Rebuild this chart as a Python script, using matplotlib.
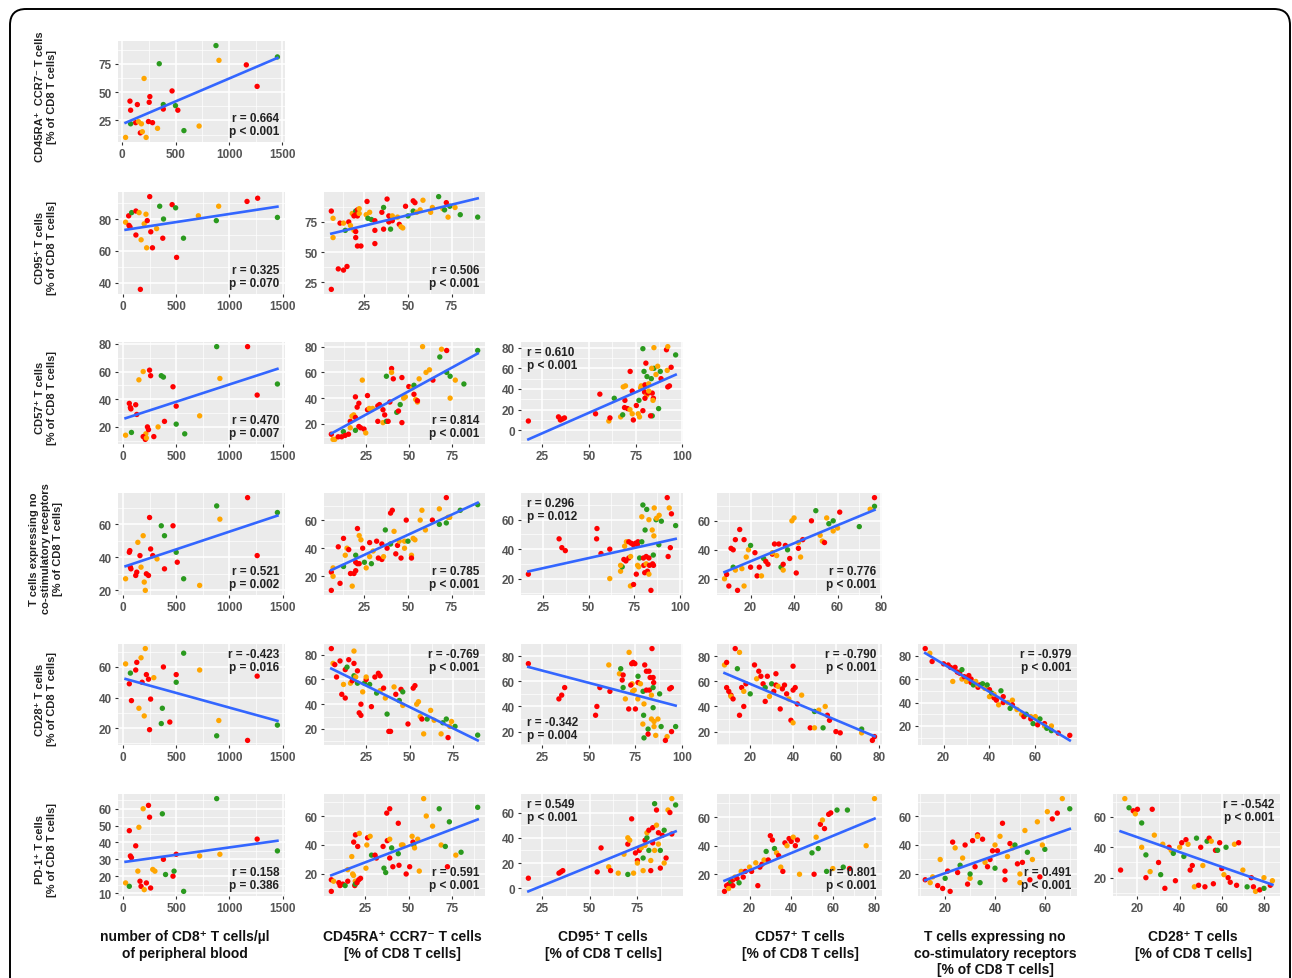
import numpy as np
import matplotlib
matplotlib.use("Agg")
import matplotlib.pyplot as plt
from matplotlib.patches import FancyBboxPatch
from matplotlib.ticker import MultipleLocator, AutoMinorLocator

plt.rcParams["font.family"] = ["Liberation Sans", "DejaVu Sans"]
plt.rcParams["font.weight"] = "bold"

COLORS = {"r": "#FF0000", "o": "#FFA500", "g": "#2A9A1E"}
LINE_BLUE = "#3366FF"

# ---- labels ----------------------------------------------------------------
row_labels = [
    "CD45RA\u207a  CCR7\u207b T cells\n[% of CD8 T cells]",
    "CD95\u207a T cells\n[% of CD8 T cells]",
    "CD57\u207a T cells\n[% of CD8 T cells]",
    "T cells expressing no\nco-stimulatory receptors\n[% of CD8 T cells]",
    "CD28\u207a T cells\n[% of CD8 T cells]",
    "PD-1\u207a T cells\n[% of CD8 T cells]",
]
col_labels = [
    "number of CD8\u207a T cells/\u00b5l\nof peripheral blood",
    "CD45RA\u207a CCR7\u207b T cells\n[% of CD8 T cells]",
    "CD95\u207a T cells\n[% of CD8 T cells]",
    "CD57\u207a T cells\n[% of CD8 T cells]",
    "T cells expressing no\nco-stimulatory receptors\n[% of CD8 T cells]",
    "CD28\u207a T cells\n[% of CD8 T cells]",
]

# ---- points per panel: (x, y, group) --------------------------------------
r1c1 = [(878, 91, "g"), (906, 78, "o"), (1453, 81, "g"), (1162, 74, "r"), (1263, 55, "r"),
        (347, 75, "g"), (205, 62, "o"), (467, 51, "r"), (259, 46, "r"), (73, 42, "r"),
        (142, 39, "r"), (253, 41, "r"), (79, 34, "r"), (385, 39, "g"), (385, 35, "r"),
        (499, 38, "g"), (521, 34, "r"), (246, 24, "r"), (284, 23, "r"), (126, 23, "r"),
        (152, 24, "o"), (79, 22, "g"), (180, 22, "o"), (170, 14, "r"), (189, 15, "o"),
        (331, 18, "o"), (32, 10, "o"), (224, 10, "o"), (578, 16, "g"), (720, 20, "o")]

r2c1 = [(250, 94, "r"), (1166, 91, "r"), (1266, 93, "r"), (899, 88, "o"), (461, 89, "r"),
        (494, 87, "g"), (344, 88, "g"), (380, 80, "g"), (708, 82, "o"), (1452, 81, "g"),
        (877, 79, "g"), (23, 78, "o"), (55, 76, "r"), (52, 82, "r"), (65, 75, "r"),
        (80, 84, "g"), (120, 85, "r"), (150, 84, "o"), (198, 77, "o"), (227, 79, "r"),
        (215, 83, "o"), (260, 72, "r"), (315, 74, "o"), (120, 70, "r"), (169, 67, "o"),
        (373, 68, "r"), (568, 68, "g"), (221, 62, "o"), (276, 62, "r"), (503, 56, "r"),
        (162, 36, "r")]

r2c2 = [(6, 84, "r"), (7, 78, "o"), (7, 62, "o"), (6, 19, "r"), (10, 36, "r"), (13, 35, "r"),
        (15, 38, "r"), (11, 74, "r"), (13, 74, "o"), (16, 75, "r"), (14, 68, "g"), (17, 72, "o"),
        (18, 82, "o"), (19, 80, "r"), (20, 84, "g"), (21, 85, "r"), (22, 86, "o"), (20, 81, "r"),
        (21, 80, "r"), (19, 68, "o"), (20, 67, "r"), (20, 62, "r"), (21, 55, "r"), (23, 55, "r"),
        (22, 82, "o"), (26.5, 92, "r"), (26, 81, "o"), (27, 78, "g"), (28, 83, "o"), (29, 77, "g"),
        (31, 68, "r"), (31, 57, "r"), (31, 76, "r"), (36, 69, "r"), (35, 83, "r"), (36, 87, "g"),
        (38, 94, "r"), (39, 80, "r"), (40, 78, "r"), (39, 75, "r"), (40, 69, "g"), (41, 80, "o"),
        (41, 76, "r"), (44, 79, "o"), (45, 73, "r"), (46, 71, "o"), (47, 70, "o"), (48.6, 88, "r"),
        (50, 80, "g"), (53, 92.5, "r"), (53, 84, "g"), (54, 91, "r"), (55, 83, "o"), (58.6, 93, "o"),
        (57, 85, "o"), (63, 83, "o"), (64, 87, "o"), (67.6, 96, "g"), (72, 91, "r"), (70, 86, "o"),
        (71, 85, "g"), (73, 79, "o"), (74, 88, "g"), (77, 87, "o"), (80, 81, "g"), (90, 79, "g")]

r3c1 = [(25, 14, "o"), (80, 16, "g"), (60, 37, "r"), (70, 34, "r"), (75, 33, "r"), (120, 36, "r"),
        (130, 29, "r"), (150, 54, "o"), (190, 60, "o"), (230, 20, "r"), (215, 15, "o"), (210, 11, "r"),
        (190, 13, "r"), (240, 18, "r"), (250, 61, "r"), (260, 57, "r"), (290, 13, "r"), (330, 20, "o"),
        (360, 57, "g"), (380, 56, "g"), (390, 24, "r"), (470, 49, "r"), (500, 35, "r"), (500, 22, "g"),
        (580, 15, "g"), (720, 28, "o"), (880, 78, "g"), (910, 55, "o"), (1170, 78, "r"),
        (1260, 43, "r"), (1450, 51, "g"), (220, 12, "o")]

r3c2 = [(5, 12, "r"), (6, 8, "o"), (7, 8, "o"), (9, 10, "r"), (11, 10, "r"), (12, 14, "g"),
        (13, 11, "r"), (15, 12, "r"), (16, 17, "o"), (16, 22, "r"), (17, 26, "o"), (18, 27, "o"),
        (19, 25, "r"), (19, 15, "g"), (19, 41, "r"), (20, 33, "r"), (21, 36, "r"), (21, 18, "r"),
        (22, 17, "r"), (23, 54, "o"), (24, 16, "r"), (25, 13, "o"), (26, 42, "r"), (26, 31, "r"),
        (27, 32, "o"), (28, 31, "o"), (29, 32, "o"), (32, 34, "r"), (32, 22, "r"), (33, 35, "r"),
        (35, 31, "r"), (35, 21, "o"), (36, 27, "r"), (37, 57, "g"), (37, 22, "g"), (38, 22, "r"),
        (39, 37, "r"), (40, 63, "r"), (40, 60, "o"), (41, 55, "r"), (43, 29, "g"), (44, 30, "r"),
        (45, 35, "g"), (46, 56, "r"), (46, 21, "r"), (47, 40, "o"), (48, 41, "o"), (50, 49, "r"),
        (52, 48, "o"), (53, 50, "g"), (53, 43, "r"), (54, 39, "o"), (55, 37, "o"), (56, 55, "o"),
        (55, 38, "r"), (58, 80, "o"), (60, 60, "o"), (62, 62, "o"), (64, 54, "r"), (68, 72, "g"),
        (69, 78, "o"), (72, 77, "r"), (72, 60, "g"), (74, 57, "g"), (74, 40, "o"), (77, 54, "o"),
        (82, 51, "g"), (90, 77, "g")]

r3c3 = [(17.7, 9, "r"), (33.8, 13, "r"), (34.8, 10, "r"), (35.9, 11, "r"), (37, 12, "r"),
        (55.9, 35, "r"), (53.6, 16, "r"), (60.7, 9, "o"), (61.3, 12, "r"), (63.6, 31, "g"),
        (68.4, 42, "o"), (69.6, 43, "o"), (69.3, 29, "r"), (72.1, 57, "r"), (69.1, 22, "r"),
        (67, 13, "o"), (68.1, 15, "g"), (70.7, 21, "r"), (72, 20, "o"), (73.2, 38, "r"),
        (73.8, 10, "r"), (73.2, 16, "o"), (75.4, 24, "r"), (76.4, 16, "o"), (77.1, 13, "o"),
        (76.8, 29, "g"), (77.7, 41, "o"), (78.9, 19, "r"), (78.9, 79, "g"), (79.1, 41, "r"),
        (79.5, 57, "g"), (80.5, 65, "r"), (79.8, 37, "r"), (81, 34, "o"), (81.5, 36, "r"),
        (81.1, 52, "g"), (84.8, 80, "o"), (84.8, 60, "g"), (83.6, 60, "o"), (83.4, 50, "g"),
        (83.9, 36, "r"), (84.5, 31, "r"), (84.3, 29, "o"), (83.9, 14, "g"), (83, 14, "r"),
        (85.9, 54, "o"), (86.8, 62, "o"), (88.2, 57, "g"), (88.6, 50, "r"), (87.3, 21, "g"),
        (91.9, 58, "o"), (91.5, 78, "r"), (92.2, 81, "o"), (94, 61, "r"), (93.1, 43, "r"),
        (92.2, 42, "r"), (96.4, 73, "g"), (78, 43, "o"), (80, 44, "r"), (82, 45, "o"),
        (80, 31, "r"), (82, 38, "o")]

r4c1 = [(25, 27, "o"), (60, 43, "r"), (65, 44, "r"), (70, 34, "r"), (75, 33, "r"), (120, 29, "r"),
        (130, 31, "r"), (140, 49, "o"), (160, 41, "r"), (190, 53, "o"), (200, 25, "o"), (210, 20, "o"),
        (220, 30, "r"), (240, 29, "r"), (250, 64, "r"), (260, 45, "r"), (280, 41, "r"), (320, 39, "o"),
        (360, 59, "g"), (390, 33, "r"), (390, 53, "g"), (470, 59, "r"), (510, 37, "r"), (500, 43, "g"),
        (570, 27, "g"), (720, 23, "o"), (880, 71, "g"), (910, 63, "o"), (1170, 76, "r"),
        (1260, 41, "r"), (1450, 67, "g"), (170, 34, "o")]

r4c2 = [(6, 10, "r"), (6, 23, "r"), (7, 26, "o"), (7, 20, "o"), (10, 41, "r"), (11, 15, "r"),
        (13, 47, "r"), (13, 27, "g"), (14, 35, "o"), (15, 40, "o"), (16, 39, "r"), (17, 22, "r"),
        (18, 13, "o"), (19, 22, "r"), (20, 24, "r"), (20, 30, "r"), (20, 35, "g"), (21, 29, "r"),
        (21, 54, "r"), (22, 29, "r"), (22, 49, "o"), (23, 46, "o"), (24, 40, "r"), (25, 30, "g"),
        (26, 26, "o"), (28, 44, "r"), (28, 34, "o"), (29, 29, "g"), (30, 38, "o"), (32, 45, "r"),
        (33, 33, "r"), (35, 32, "r"), (35, 43, "r"), (36, 34, "o"), (37, 53, "g"), (38, 40, "r"),
        (40, 65, "r"), (41, 67, "r"), (40, 43, "g"), (42, 52, "o"), (43, 36, "r"), (44, 42, "r"),
        (45, 45, "o"), (46, 33, "r"), (48, 45, "o"), (48, 40, "o"), (49, 60, "r"), (50, 45, "g"),
        (52, 35, "o"), (52, 33, "r"), (53, 47, "o"), (54, 46, "o"), (57, 60, "o"), (58, 67, "o"),
        (60, 53, "o"), (64, 60, "r"), (68, 57, "g"), (68, 68, "o"), (72, 76, "r"), (72, 58, "g"),
        (73, 62, "o"), (74, 62, "o"), (80, 67, "g"), (90, 71, "g")]

r4c3 = [(17.1, 23, "r"), (33.9, 47, "r"), (35.4, 41, "r"), (37.3, 39, "r"), (54.6, 54, "r"),
        (54.4, 47, "r"), (56.8, 37, "r"), (61.6, 40, "r"), (61.6, 20, "o"), (67.5, 25, "o"),
        (68.4, 28, "g"), (67.5, 29, "o"), (69.3, 33, "r"), (70.4, 32, "r"), (69.7, 42, "o"),
        (70.7, 45, "o"), (72, 45, "r"), (73.3, 44, "r"), (74.5, 43, "r"), (75.6, 44, "r"),
        (77, 45, "r"), (76.7, 43, "r"), (72, 34, "r"), (73, 35, "o"), (72.9, 15, "o"),
        (74.6, 16, "r"), (76.1, 23, "r"), (76.8, 29, "o"), (77.4, 28, "o"), (77.9, 34, "g"),
        (79.1, 45, "g"), (79.7, 70, "g"), (79.1, 62, "o"), (80.9, 53, "g"), (81.8, 67, "g"),
        (83, 60, "o"), (80, 34, "r"), (81.5, 35, "r"), (83, 34, "r"), (80.2, 29, "r"),
        (81.5, 30, "o"), (83.3, 29, "r"), (85, 30, "r"), (85.5, 29, "r"), (80.7, 24, "r"),
        (82.2, 25, "r"), (83, 23, "o"), (84.1, 12, "r"), (84.8, 53, "o"), (85.7, 49, "o"),
        (85.9, 68, "o"), (86.9, 60, "g"), (87.2, 61, "o"), (85.4, 36, "g"), (88.4, 43, "g"),
        (88.6, 63, "o"), (89.8, 59, "g"), (93, 75, "r"), (94.1, 68, "o"), (95.3, 64, "r"),
        (94.7, 41, "r"), (93.5, 35, "r"), (97.6, 56, "g")]

r4c4 = [(8, 20, "o"), (9, 23, "r"), (10, 15, "r"), (11, 41, "r"), (12, 40, "r"), (12, 28, "g"),
        (13, 26, "o"), (13, 47, "r"), (14, 12, "r"), (15, 54, "r"), (16, 27, "o"), (17, 15, "o"),
        (17, 47, "r"), (18, 35, "o"), (19, 40, "o"), (20, 43, "g"), (20, 28, "r"), (22, 38, "r"),
        (23, 22, "r"), (24, 28, "r"), (25, 22, "o"), (26, 34, "g"), (27, 32, "r"), (28, 30, "r"),
        (30, 37, "r"), (30, 38, "o"), (31, 44, "r"), (32, 36, "o"), (33, 44, "r"), (34, 28, "g"),
        (35, 30, "r"), (35, 26, "o"), (36, 43, "r"), (37, 40, "g"), (38, 34, "r"), (39, 60, "o"),
        (40, 62, "o"), (41, 24, "r"), (42, 41, "r"), (42, 45, "o"), (43, 35, "o"), (44, 47, "r"),
        (48, 60, "r"), (50, 67, "g"), (52, 50, "o"), (53, 46, "o"), (54, 45, "r"), (55, 62, "o"),
        (56, 58, "g"), (58, 53, "o"), (58, 60, "g"), (61, 66, "r"), (60, 55, "o"), (70, 56, "g"),
        (77, 76, "r"), (77, 70, "g"), (75, 68, "o")]

r5c1 = [(25, 62, "o"), (60, 49, "r"), (70, 56, "g"), (80, 38, "r"), (120, 58, "r"), (130, 63, "r"),
        (150, 33, "o"), (170, 66, "o"), (180, 50, "r"), (200, 28, "o"), (210, 72, "o"), (220, 55, "r"),
        (240, 52, "r"), (250, 19, "r"), (260, 39, "r"), (290, 53, "o"), (360, 23, "g"), (370, 33, "g"),
        (380, 60, "r"), (440, 24, "r"), (500, 50, "g"), (500, 55, "r"), (570, 69, "g"), (720, 58, "o"),
        (880, 15, "g"), (900, 25, "o"), (1170, 12, "r"), (1260, 54, "r"), (1450, 22, "g")]

r5c2 = [(5, 85, "r"), (6, 73, "o"), (7, 72, "r"), (8, 62, "r"), (10, 75, "r"), (11, 48, "r"),
        (12, 56, "o"), (13, 68, "r"), (13, 45, "r"), (14, 70, "g"), (15, 76, "r"), (16, 57, "o"),
        (17, 59, "r"), (18, 73, "r"), (18, 63, "g"), (19, 62, "o"), (18, 83, "o"), (20, 67, "r"),
        (20, 57, "g"), (21, 33, "r"), (22, 31, "r"), (22, 40, "r"), (23, 50, "o"), (24, 57, "g"),
        (25, 60, "r"), (25, 62, "o"), (27, 56, "g"), (28, 38, "r"), (30, 62, "r"), (31, 49, "g"),
        (32, 65, "r"), (33, 63, "r"), (33, 51, "o"), (35, 53, "r"), (37, 32, "g"), (36, 45, "o"),
        (38, 18, "r"), (39, 18, "r"), (41, 54, "o"), (42, 48, "r"), (44, 43, "g"), (45, 52, "r"),
        (46, 50, "g"), (46, 39, "o"), (49, 24, "r"), (52, 53, "r"), (53, 55, "r"), (54, 40, "o"),
        (55, 42, "o"), (56, 30, "o"), (58, 16, "o"), (57, 28, "r"), (60, 28, "g"), (62, 35, "o"),
        (64, 27, "o"), (68, 16, "o"), (69, 25, "g"), (71, 28, "g"), (72, 13, "r"), (74, 26, "o"),
        (76, 22, "g"), (73, 22, "o"), (89, 15, "g")]

r5c3 = [(17.5, 74, "r"), (33.9, 46, "r"), (35.4, 49, "r"), (37, 55, "r"), (53.6, 33, "r"),
        (54.3, 40, "r"), (55.9, 55, "r"), (61.3, 52, "r"), (60.7, 73, "o"), (66.4, 66, "o"),
        (67.9, 61, "r"), (67.1, 70, "g"), (68.4, 65, "r"), (68.4, 55, "g"), (69.6, 46, "o"),
        (71.4, 38, "r"), (71.6, 83, "o"), (73, 74, "r"), (73.8, 75, "r"), (74.7, 74, "r"),
        (73.2, 58, "o"), (72.5, 57, "r"), (75, 38, "r"), (76.3, 46, "o"), (73.5, 52, "o"),
        (74.4, 53, "o"), (76.4, 64, "g"), (76.4, 59, "r"), (77.7, 58, "o"), (79.1, 52, "g"),
        (79.6, 42, "o"), (80, 73, "r"), (80.9, 68, "r"), (82.3, 68, "r"), (82.9, 63, "r"),
        (80.9, 53, "r"), (82.5, 53, "r"), (79.4, 33, "g"), (79, 26, "o"), (81.8, 22, "g"),
        (79.6, 15, "g"), (81.8, 18, "r"), (83.9, 86, "r"), (84.5, 63, "r"), (84.8, 59, "r"),
        (84.5, 55, "g"), (83.6, 49, "o"), (84.5, 39, "g"), (83.6, 30, "o"), (85, 28, "o"),
        (85, 24, "o"), (85.9, 17, "o"), (87.1, 30, "o"), (88, 50, "g"), (88.8, 24, "g"),
        (92, 16, "o"), (91.1, 13, "r"), (93.4, 54, "r"), (94.3, 55, "r"), (94.4, 20, "r"),
        (96.6, 24, "g")]

r5c4 = [(8, 73, "o"), (9, 75, "r"), (9, 55, "r"), (10, 52, "r"), (11, 49, "r"), (11, 48, "o"),
        (12, 46, "r"), (13, 86, "r"), (14, 70, "g"), (15, 83, "o"), (15, 33, "r"), (16, 55, "r"),
        (17, 52, "o"), (17, 40, "r"), (18, 58, "r"), (20, 50, "g"), (22, 73, "r"), (23, 62, "o"),
        (24, 68, "r"), (25, 64, "r"), (26, 58, "r"), (27, 55, "g"), (27, 44, "r"), (28, 64, "r"),
        (29, 48, "o"), (30, 58, "g"), (31, 52, "r"), (32, 66, "r"), (32, 57, "r"), (34, 38, "r"),
        (33, 56, "o"), (35, 54, "r"), (36, 57, "r"), (37, 50, "r"), (38, 46, "o"), (39, 29, "r"),
        (40, 27, "o"), (40, 72, "r"), (40, 53, "r"), (41, 55, "r"), (42, 42, "r"), (44, 49, "o"),
        (50, 36, "g"), (48, 23, "r"), (50, 23, "o"), (52, 37, "o"), (54, 23, "g"), (55, 40, "o"),
        (56, 33, "r"), (57, 29, "r"), (60, 20, "r"), (62, 19, "r"), (72, 22, "g"), (77, 13, "r"),
        (78, 16, "r"), (72, 19, "o")]

r5c5 = [(12, 86, "r"), (14, 82, "o"), (15, 75, "r"), (20, 73, "r"), (22, 72, "r"), (23, 70, "r"),
        (25, 70, "r"), (24, 58, "o"), (26, 66, "r"), (27, 65, "r"), (28, 68, "g"), (28, 60, "o"),
        (29, 62, "r"), (30, 58, "o"), (31, 63, "r"), (32, 60, "r"), (32, 57, "r"), (33, 55, "g"),
        (34, 58, "o"), (35, 53, "r"), (35, 55, "o"), (36, 55, "r"), (37, 56, "g"), (38, 52, "o"),
        (39, 55, "g"), (40, 51, "r"), (40, 45, "o"), (41, 48, "g"), (42, 44, "r"), (42, 47, "o"),
        (43, 42, "r"), (44, 38, "o"), (45, 50, "g"), (46, 45, "r"), (46, 40, "r"), (48, 40, "o"),
        (50, 42, "o"), (50, 38, "r"), (49, 35, "g"), (52, 34, "o"), (54, 30, "o"), (55, 28, "r"),
        (56, 30, "g"), (58, 28, "o"), (58, 26, "r"), (60, 28, "o"), (59, 22, "g"), (61, 21, "r"),
        (62, 26, "g"), (64, 22, "r"), (64, 20, "o"), (65, 18, "g"), (67, 20, "o"), (67, 16, "g"),
        (70, 14, "r"), (75, 12, "r")]

r6c1 = [(25, 16, "o"), (60, 14, "g"), (60, 47, "r"), (70, 32, "r"), (80, 31, "r"), (120, 38, "r"),
        (140, 23, "o"), (150, 49, "o"), (160, 17, "r"), (170, 14, "r"), (190, 60, "o"), (200, 12, "o"),
        (220, 16, "r"), (240, 62, "r"), (250, 55, "r"), (260, 13, "r"), (280, 24, "o"), (300, 23, "o"),
        (370, 57, "g"), (380, 30, "r"), (400, 21, "g"), (470, 20, "r"), (480, 23, "g"), (500, 33, "r"),
        (570, 11, "g"), (720, 32, "o"), (880, 66, "g"), (910, 33, "o"), (1260, 42, "r"),
        (1450, 35, "g")]

r6c2 = [(5.8, 8, "r"), (5.8, 16, "r"), (7.1, 15, "o"), (10.1, 14, "r"), (10.8, 12, "r"),
        (12.4, 13, "r"), (13.7, 12, "g"), (15.2, 15, "r"), (15.2, 23, "o"), (17.5, 32, "o"),
        (18.6, 42, "r"), (19.6, 47, "r"), (20.9, 39, "r"), (18, 20, "o"), (18.5, 19, "o"),
        (19.5, 15, "o"), (19.2, 12, "r"), (19.5, 13, "g"), (20.5, 14, "r"), (21.5, 16, "r"),
        (22.5, 17, "r"), (21.8, 48, "o"), (25.6, 24, "o"), (26.5, 45, "r"), (26.1, 40, "o"),
        (28, 46, "o"), (28.8, 33, "g"), (30.8, 33, "r"), (31.6, 31, "r"), (35.4, 39, "r"),
        (35.9, 24, "g"), (36.9, 21, "g"), (37.5, 62, "r"), (39.2, 65, "r"), (37.8, 43, "r"),
        (39.2, 44, "o"), (39.2, 31, "r"), (40.3, 38, "g"), (41, 25, "r"), (44.1, 55, "r"),
        (44.5, 26, "r"), (44.1, 34, "g"), (45.9, 40, "o"), (46.8, 40, "o"), (48.6, 20, "r"),
        (50.6, 25, "r"), (52, 46, "o"), (52.5, 42, "r"), (52.9, 40, "g"), (53.4, 38, "o"),
        (55.2, 44, "o"), (56.1, 22, "o"), (58.6, 72, "o"), (60.1, 60, "o"), (63.7, 53, "o"),
        (67.5, 65, "g"), (68.6, 40, "o"), (73.3, 56, "g"), (71, 39, "g"), (72.2, 25, "r"),
        (77, 33, "o"), (80, 35, "g"), (89.5, 66, "g")]

r6c3 = [(18, 8, "r"), (34, 12, "r"), (35, 13, "r"), (36, 14, "r"), (54, 13, "r"), (56, 32, "r"),
        (60, 17, "o"), (61, 14, "r"), (65, 12, "o"), (68, 27, "o"), (70, 35, "r"), (70, 11, "g"),
        (70, 40, "o"), (71, 38, "o"), (72, 55, "r"), (73, 12, "o"), (74, 28, "r"), (75, 22, "r"),
        (75, 20, "o"), (76, 30, "r"), (77, 32, "o"), (78, 24, "g"), (78, 14, "o"), (79, 38, "r"),
        (79, 34, "o"), (80, 40, "g"), (80, 44, "o"), (81, 46, "r"), (81, 30, "g"), (82, 14, "r"),
        (82, 22, "o"), (83, 48, "r"), (83, 36, "r"), (84, 30, "o"), (84, 67, "g"), (85, 62, "r"),
        (85, 50, "o"), (86, 44, "r"), (86, 35, "o"), (87, 16, "r"), (87, 30, "g"), (88, 42, "r"),
        (89, 46, "g"), (90, 24, "r"), (91, 62, "o"), (92, 60, "r"), (93, 71, "o"), (95, 66, "g"),
        (93, 43, "r"), (89, 20, "o")]

r6c4 = [(8, 8, "r"), (9, 12, "r"), (10, 13, "r"), (10, 10, "o"), (11, 15, "g"), (12, 12, "r"),
        (12, 16, "r"), (13, 18, "o"), (14, 17, "r"), (15, 14, "g"), (16, 22, "o"), (17, 18, "r"),
        (18, 22, "r"), (20, 25, "o"), (21, 22, "r"), (23, 28, "o"), (24, 12, "r"), (25, 25, "r"),
        (26, 27, "r"), (27, 30, "o"), (28, 36, "g"), (29, 30, "r"), (30, 47, "r"), (31, 44, "r"),
        (32, 38, "g"), (33, 35, "o"), (34, 33, "r"), (35, 25, "o"), (36, 22, "r"), (37, 42, "r"),
        (38, 40, "o"), (39, 45, "r"), (40, 43, "r"), (41, 46, "o"), (42, 40, "r"), (43, 44, "r"),
        (44, 20, "o"), (50, 35, "g"), (51, 20, "r"), (52, 46, "o"), (53, 38, "g"), (54, 55, "r"),
        (55, 58, "o"), (56, 52, "r"), (57, 22, "g"), (58, 62, "r"), (59, 63, "r"), (60, 24, "o"),
        (62, 65, "g"), (65, 25, "g"), (67, 65, "g"), (68, 24, "r"), (76, 40, "o"), (80, 73, "o")]

r6c5 = [(12, 16, "r"), (14, 14, "o"), (15, 18, "o"), (17, 12, "r"), (18, 30, "o"), (19, 10, "r"),
        (20, 17, "g"), (21, 22, "r"), (22, 8, "r"), (23, 42, "r"), (24, 38, "o"), (25, 21, "r"),
        (26, 26, "g"), (27, 31, "o"), (28, 40, "r"), (29, 13, "r"), (30, 17, "o"), (30, 20, "g"),
        (31, 43, "r"), (32, 25, "r"), (33, 47, "r"), (33, 46, "o"), (34, 14, "g"), (35, 44, "r"),
        (36, 28, "o"), (37, 25, "r"), (38, 30, "r"), (39, 36, "r"), (40, 40, "o"), (40, 24, "g"),
        (41, 36, "r"), (42, 46, "o"), (43, 55, "r"), (44, 22, "r"), (45, 32, "o"), (46, 41, "r"),
        (47, 38, "o"), (48, 40, "g"), (49, 27, "r"), (50, 20, "o"), (51, 28, "r"), (52, 50, "o"),
        (53, 35, "g"), (54, 16, "r"), (55, 30, "o"), (57, 56, "o"), (58, 18, "r"), (60, 37, "g"),
        (61, 63, "o"), (63, 58, "r"), (65, 62, "r"), (67, 72, "o"), (70, 65, "g"), (59, 40, "o"),
        (50, 14, "o"), (44, 16, "r")]

r6c6 = [(12, 25, "r"), (14, 72, "o"), (16, 66, "g"), (18, 64, "r"), (19, 62, "o"), (20, 65, "r"),
        (22, 56, "g"), (22, 40, "o"), (24, 20, "r"), (24, 35, "g"), (26, 24, "o"), (27, 65, "r"),
        (28, 48, "o"), (30, 30, "r"), (31, 22, "g"), (32, 42, "o"), (33, 13, "r"), (35, 40, "r"),
        (36, 38, "o"), (37, 36, "g"), (38, 18, "r"), (40, 40, "o"), (41, 43, "r"), (42, 34, "g"),
        (43, 45, "r"), (44, 42, "o"), (45, 25, "r"), (46, 28, "r"), (47, 14, "o"), (48, 46, "g"),
        (49, 15, "r"), (50, 40, "r"), (51, 28, "o"), (52, 14, "r"), (53, 44, "g"), (54, 46, "r"),
        (55, 44, "o"), (56, 16, "r"), (57, 38, "r"), (58, 38, "g"), (59, 43, "r"), (60, 26, "r"),
        (61, 22, "o"), (62, 40, "g"), (63, 20, "r"), (64, 17, "r"), (66, 42, "o"), (67, 15, "r"),
        (68, 43, "r"), (70, 25, "o"), (72, 14, "g"), (74, 20, "r"), (75, 14, "r"), (76, 11, "o"),
        (78, 12, "r"), (80, 13, "g"), (80, 20, "o"), (83, 15, "r"), (84, 18, "o")]

# panel -> (points, r/p text, text corner, y tick step)
panels = {
    (0, 0): (r1c1, "r = 0.664\np < 0.001", "br", 25),
    (1, 0): (r2c1, "r = 0.325\np = 0.070", "br", 20),
    (1, 1): (r2c2, "r = 0.506\np < 0.001", "br", 25),
    (2, 0): (r3c1, "r = 0.470\np = 0.007", "br", 20),
    (2, 1): (r3c2, "r = 0.814\np < 0.001", "br", 20),
    (2, 2): (r3c3, "r = 0.610\np < 0.001", "tl", 20),
    (3, 0): (r4c1, "r = 0.521\np = 0.002", "br", 20),
    (3, 1): (r4c2, "r = 0.785\np < 0.001", "br", 20),
    (3, 2): (r4c3, "r = 0.296\np = 0.012", "tl", 20),
    (3, 3): (r4c4, "r = 0.776\np < 0.001", "br", 20),
    (4, 0): (r5c1, "r = -0.423\np = 0.016", "tr", 20),
    (4, 1): (r5c2, "r = -0.769\np < 0.001", "tr", 20),
    (4, 2): (r5c3, "r = -0.342\np = 0.004", "bl", 20),
    (4, 3): (r5c4, "r = -0.790\np < 0.001", "tr", 20),
    (4, 4): (r5c5, "r = -0.979\np < 0.001", "tr", 20),
    (5, 0): (r6c1, "r = 0.158\np = 0.386", "br", 10),
    (5, 1): (r6c2, "r = 0.591\np < 0.001", "br", 20),
    (5, 2): (r6c3, "r = 0.549\np < 0.001", "tl", 20),
    (5, 3): (r6c4, "r = 0.801\np < 0.001", "br", 20),
    (5, 4): (r6c5, "r = 0.491\np < 0.001", "br", 20),
    (5, 5): (r6c6, "r = -0.542\np < 0.001", "tr", 20),
}
x_steps = [500, 25, 25, 20, 20, 20]

# ---- layout (pixels) -------------------------------------------------------
W, H = 1292, 979
col_px = [(118, 285), (324, 485), (521, 683), (717, 882), (918, 1077), (1113, 1280)]
row_px = [(42, 143), (193, 295), (343, 445), (494, 596), (645, 746), (795, 897)]

fig = plt.figure(figsize=(W / 100, H / 100), dpi=100)
fig.patch.set_facecolor("white")

# overlay for frame and outer labels, in pixel coordinates
bg = fig.add_axes([0, 0, 1, 1], zorder=0)
bg.set_xlim(0, W)
bg.set_ylim(H, 0)
bg.axis("off")
bg.add_patch(FancyBboxPatch((10, 10), 1280, 1010, boxstyle="round,pad=0,rounding_size=16",
                            fill=False, ec="black", lw=1.4))

corner = {"br": (0.965, 0.05, "right", "bottom"), "tr": (0.965, 0.96, "right", "top"),
          "tl": (0.035, 0.96, "left", "top"), "bl": (0.035, 0.04, "left", "bottom")}

for (ri, ci), (pts, txt, pos, ystep) in panels.items():
    x0, x1 = col_px[ci]
    y0, y1 = row_px[ri]
    ax = fig.add_axes([x0 / W, 1 - y1 / H, (x1 - x0) / W, (y1 - y0) / H], zorder=1)
    xs = np.array([p[0] for p in pts], float)
    ys = np.array([p[1] for p in pts], float)
    cs = [COLORS[p[2]] for p in pts]
    ax.scatter(xs, ys, c=cs, s=15, linewidths=0, zorder=3)
    m, b = np.polyfit(xs, ys, 1)
    lx = np.array([xs.min(), xs.max()])
    ax.plot(lx, m * lx + b, color=LINE_BLUE, lw=1.9, zorder=4)

    ax.set_facecolor("#EBEBEB")
    for s in ax.spines.values():
        s.set_visible(False)
    ax.xaxis.set_major_locator(MultipleLocator(x_steps[ci]))
    ax.yaxis.set_major_locator(MultipleLocator(ystep))
    ax.xaxis.set_minor_locator(AutoMinorLocator(2))
    ax.yaxis.set_minor_locator(AutoMinorLocator(2))
    ax.grid(which="major", color="white", lw=1.1)
    ax.grid(which="minor", color="white", lw=0.5)
    ax.set_axisbelow(True)
    ax.tick_params(which="major", length=2.5, width=0.8, color="#333333",
                   labelsize=8.5, labelcolor="#555555", pad=2)
    ax.tick_params(which="minor", length=0)

    tx, ty, ha, va = corner[pos]
    ax.text(tx, ty, txt, transform=ax.transAxes, ha=ha, va=va, ma=ha,
            fontsize=8.5, color="#222222", linespacing=1.15, zorder=5)

for ri, lab in enumerate(row_labels):
    y0, y1 = row_px[ri]
    bg.text(46, (y0 + y1) / 2 + 4, lab, rotation=90, ha="center", va="center",
            fontsize=8, color="#222222", linespacing=1.2)

col_centers = [185, 402, 603, 800, 995, 1193]
for ci, lab in enumerate(col_labels):
    bg.text(col_centers[ci], 930, lab, ha="center", va="top", fontsize=10,
            color="#111111", linespacing=1.25)

fig.savefig("out.png", dpi=100)
